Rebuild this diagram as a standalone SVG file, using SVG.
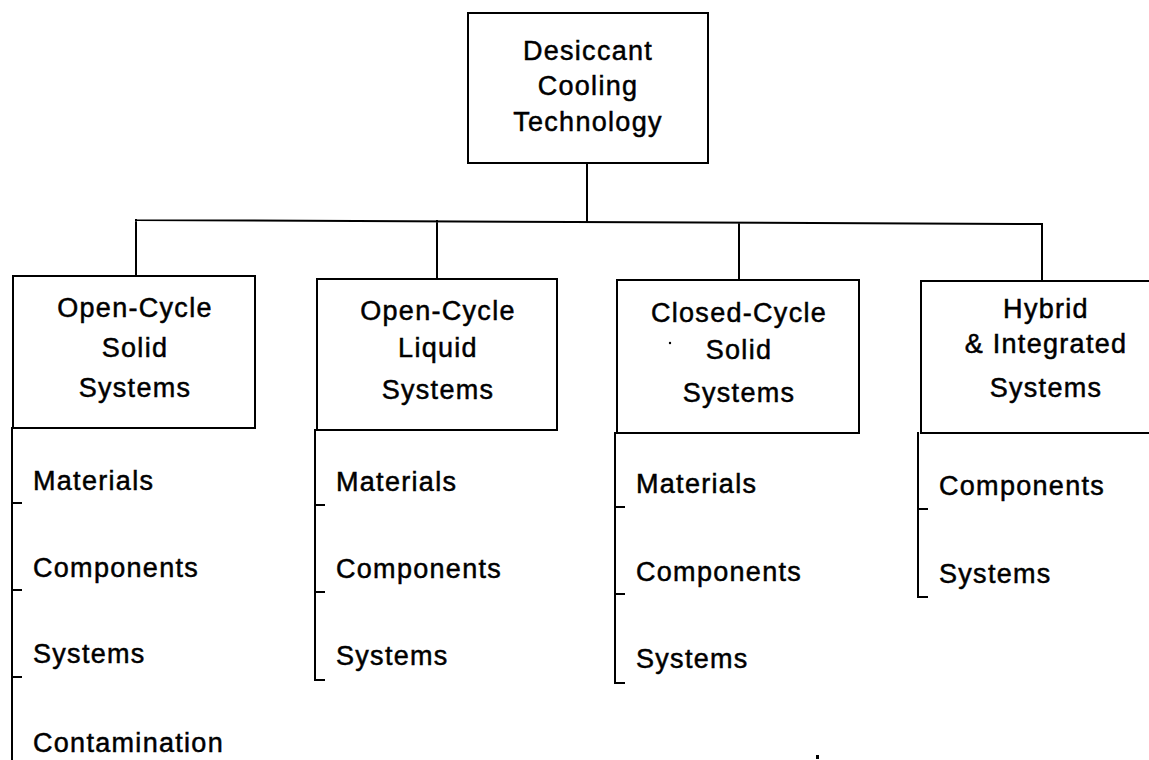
<svg xmlns="http://www.w3.org/2000/svg" width="1149" height="760" viewBox="0 0 1149 760">
<style>
.ln{fill:none;stroke:#000;stroke-width:2;stroke-linecap:square}
.bx{fill:#fff;stroke:#000;stroke-width:2}
.t{font-family:"Liberation Sans",Arial,Helvetica,sans-serif;font-size:27px;letter-spacing:1.3px;fill:#000;stroke:#000;stroke-width:0.5px}
.c{text-anchor:middle}
</style>
<rect width="1149" height="760" fill="#fff"/>
<g id="connectors">
<path class="ln" d="M587 163V221M136 220L1042 224M136 220V276M437 221V279M739 223V280M1042 224V281"/>
</g>
<g id="root">
<rect class="bx" x="468" y="13" width="240" height="150"/>
<text class="t c" x="588" y="60">Desiccant</text>
<text class="t c" x="588" y="95">Cooling</text>
<text class="t c" x="588" y="131">Technology</text>
</g>
<g id="open-solid">
<rect class="bx" x="13" y="276" width="242" height="152"/>
<text class="t c" x="135" y="317">Open-Cycle</text>
<text class="t c" x="135" y="357">Solid</text>
<text class="t c" x="135" y="397">Systems</text>
<path class="ln" d="M12 428V760M12 503H21M12 590H21M12 677H21"/>
<text class="t" x="33" y="490">Materials</text>
<text class="t" x="33" y="577">Components</text>
<text class="t" x="33" y="663">Systems</text>
<text class="t" x="33" y="752">Contamination</text>
</g>
<g id="open-liquid">
<rect class="bx" x="317" y="279" width="240" height="151"/>
<text class="t c" x="438" y="320">Open-Cycle</text>
<text class="t c" x="438" y="357">Liquid</text>
<text class="t c" x="438" y="399">Systems</text>
<path class="ln" d="M315 430V680H324M315 505H324M315 592H324"/>
<text class="t" x="336" y="491">Materials</text>
<text class="t" x="336" y="578">Components</text>
<text class="t" x="336" y="665">Systems</text>
</g>
<g id="closed-solid">
<rect class="bx" x="617" y="280" width="242" height="153"/>
<text class="t c" x="739" y="322">Closed-Cycle</text>
<text class="t c" x="739" y="359">Solid</text>
<text class="t c" x="739" y="402">Systems</text>
<path class="ln" d="M615 433V683H624M615 507H624M615 594H624"/>
<text class="t" x="636" y="493">Materials</text>
<text class="t" x="636" y="581">Components</text>
<text class="t" x="636" y="668">Systems</text>
</g>
<g id="hybrid">
<path class="ln" d="M1152 281H921V433H1152"/>
<text class="t c" x="1046" y="318">Hybrid</text>
<text class="t c" x="1046" y="353">&amp; Integrated</text>
<text class="t c" x="1046" y="397">Systems</text>
<path class="ln" d="M918 433V597H927M918 509H927"/>
<text class="t" x="939" y="495">Components</text>
<text class="t" x="939" y="583">Systems</text>
</g>
<circle cx="670" cy="343" r="1.2" fill="#000"/>
<rect x="816" y="755" width="3" height="4" fill="#000"/>
</svg>
